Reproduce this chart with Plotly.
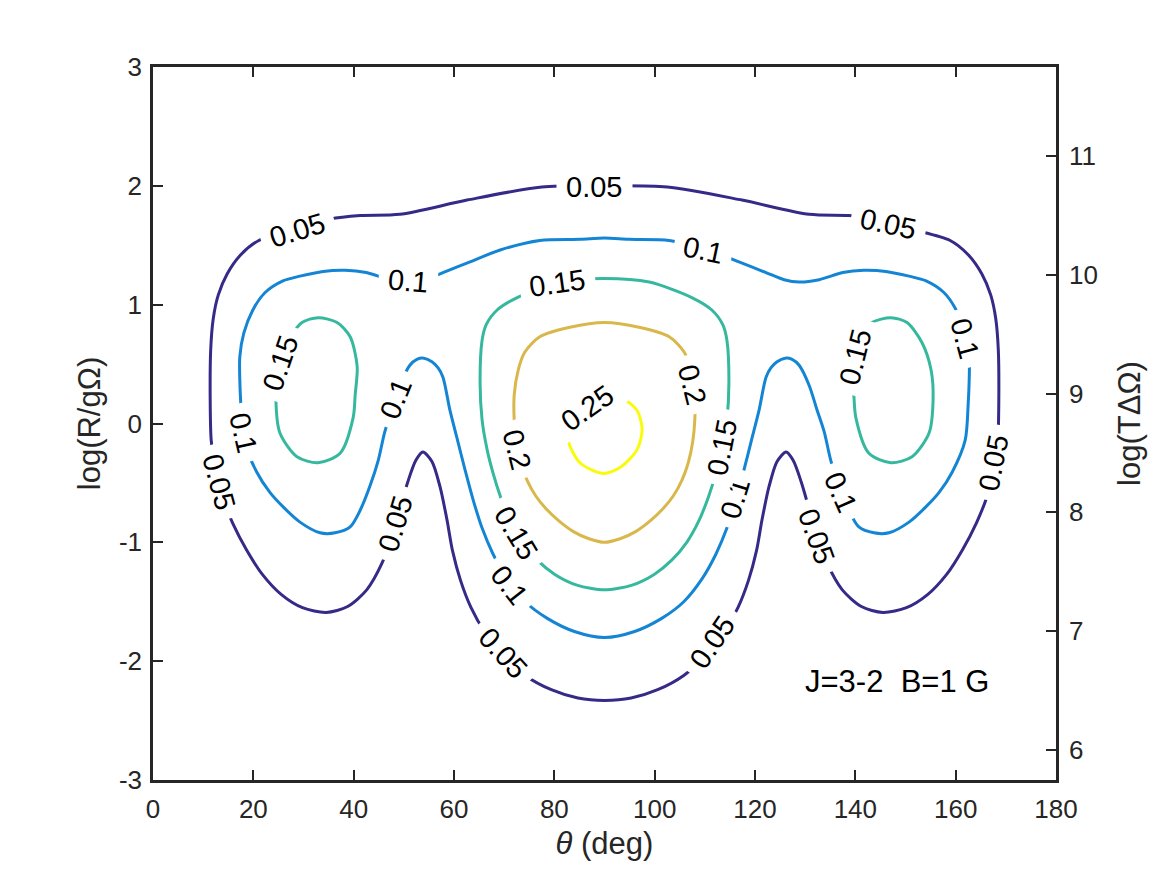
import plotly.graph_objects as go

# contour lines as (theta in deg, log(R/gOmega)) points
pts_005 = [(90, 2.00), (77.5, 1.99), (62.6, 1.88), (49.2, 1.76), (41.3, 1.75), (35.3, 1.72), (29.3, 1.64),
           (21.1, 1.54), (17.5, 1.42), (14.8, 1.26), (13.0, 1.08), (12.0, 0.88), (11.5, 0.62), (11.4, 0.20),
           (11.6, -0.14), (12.4, -0.39), (13.8, -0.62), (15.9, -0.84), (18.6, -1.06), (21.8, -1.27),
           (25.6, -1.44), (29.8, -1.55), (34.5, -1.59), (38.8, -1.54), (42.6, -1.40), (45.6, -1.18),
           (47.6, -0.95), (49.2, -0.72), (50.8, -0.49), (52.4, -0.31), (53.8, -0.24), (55.6, -0.32),
           (57.2, -0.53), (58.6, -0.81), (59.7, -1.07), (61.3, -1.32), (63.4, -1.55), (66.2, -1.76),
           (69.8, -1.95), (74.2, -2.12), (79.4, -2.24), (84.7, -2.31), (90, -2.33),
           (95.3, -2.31), (100.6, -2.24), (105.8, -2.12), (110.2, -1.95), (113.8, -1.76), (116.6, -1.55),
           (118.7, -1.32), (120.3, -1.07), (121.4, -0.81), (122.8, -0.53), (124.4, -0.32), (126.2, -0.24),
           (127.6, -0.31), (129.2, -0.49), (130.8, -0.72), (132.4, -0.95), (134.4, -1.18), (137.4, -1.40),
           (141.2, -1.54), (145.5, -1.59), (150.2, -1.55), (154.4, -1.44), (158.2, -1.27), (161.4, -1.06),
           (164.1, -0.84), (166.2, -0.62), (167.6, -0.39), (168.4, -0.14), (168.6, 0.20), (168.5, 0.62),
           (168.0, 0.88), (167.0, 1.08), (165.2, 1.26), (162.5, 1.42), (158.9, 1.54), (150.7, 1.64),
           (144.7, 1.72), (138.7, 1.75), (130.8, 1.76), (117.4, 1.88), (102.5, 1.99), (90, 2.00)]

pts_010 = [(90, 1.56), (85.2, 1.55), (77.1, 1.54), (69.2, 1.46), (63.2, 1.36), (57.8, 1.27), (54.2, 1.21),
           (51.2, 1.19), (47.2, 1.21), (42.5, 1.27), (38.3, 1.29), (33.9, 1.28), (29.3, 1.24), (25.9, 1.20),
           (22.3, 1.10), (19.9, 0.955), (18.1, 0.76), (17.3, 0.56), (17.3, 0.37), (17.5, 0.17), (18.1, -0.14),
           (20.7, -0.41), (23.3, -0.58), (25.9, -0.70), (29.3, -0.83), (33.3, -0.92), (36.3, -0.92),
           (39.3, -0.87), (41.3, -0.73), (43.3, -0.52), (44.9, -0.31), (46.2, -0.07), (47.6, 0.11),
           (49.2, 0.32), (51.2, 0.49), (52.6, 0.54), (54.0, 0.55), (55.6, 0.52), (56.8, 0.47), (57.8, 0.39),
           (59.2, 0.11), (60.7, -0.14), (62.2, -0.39), (63.8, -0.64), (65.6, -0.88), (67.8, -1.10),
           (70.6, -1.31), (74.2, -1.50), (78.6, -1.64), (84.0, -1.75), (90, -1.80),
           (96.0, -1.75), (101.4, -1.64), (105.8, -1.50), (109.4, -1.31), (112.2, -1.10), (114.4, -0.88),
           (116.2, -0.64), (117.8, -0.39), (119.3, -0.14), (120.8, 0.11), (122.2, 0.39), (123.2, 0.47),
           (124.4, 0.52), (126.0, 0.55), (127.4, 0.54), (128.8, 0.49), (130.8, 0.32), (132.4, 0.11),
           (133.8, -0.07), (135.1, -0.31), (136.7, -0.52), (138.7, -0.73), (140.7, -0.87), (143.7, -0.92),
           (146.7, -0.92), (150.7, -0.83), (154.1, -0.70), (156.7, -0.58), (159.3, -0.41), (161.9, -0.14),
           (162.5, 0.17), (162.7, 0.37), (162.7, 0.56), (161.9, 0.76), (160.1, 0.955), (157.7, 1.10),
           (154.1, 1.20), (150.7, 1.24), (146.1, 1.28), (141.7, 1.29), (137.5, 1.27), (132.8, 1.21),
           (128.8, 1.19), (125.8, 1.21), (122.2, 1.27), (116.8, 1.36), (110.8, 1.46), (102.9, 1.54),
           (94.8, 1.55), (90, 1.56)]

pts_015_left = [(32.9, 0.89), (36.7, 0.85), (39.3, 0.73), (40.7, 0.48), (40.3, 0.24), (39.9, 0.05),
                (37.3, -0.25), (32.9, -0.33), (28.7, -0.28), (25.3, -0.08), (24.5, 0.20), (24.9, 0.45),
                (26.7, 0.68), (29.7, 0.85), (32.9, 0.89)]

pts_015_right = [(147.1, 0.89), (150.3, 0.85), (153.3, 0.68), (155.1, 0.45), (155.5, 0.20), (154.7, -0.08),
                 (151.3, -0.28), (147.1, -0.33), (142.7, -0.25), (140.1, 0.05), (139.7, 0.24), (139.3, 0.48),
                 (140.7, 0.73), (143.3, 0.85), (147.1, 0.89)]

pts_015_mid = [(90, 1.22), (81.1, 1.19), (72.6, 1.06), (68.6, 0.955), (66.4, 0.83), (65.6, 0.70), (65.2, 0.34),
               (65.6, 0.03), (66.6, -0.22), (67.8, -0.42), (69.3, -0.62), (71.2, -0.82), (73.6, -1.00),
               (76.6, -1.15), (80.1, -1.27), (84.5, -1.36), (90, -1.40),
               (95.5, -1.36), (99.9, -1.27), (103.4, -1.15), (106.4, -1.00), (108.8, -0.82), (110.7, -0.62),
               (112.2, -0.42), (113.4, -0.22), (114.4, 0.03), (114.8, 0.34), (114.4, 0.70), (113.6, 0.83),
               (111.4, 0.955), (107.4, 1.06), (98.9, 1.19), (90, 1.22)]

pts_020 = [(90, 0.85), (83.1, 0.81), (77.1, 0.73), (74.1, 0.60), (72.8, 0.45), (72.0, 0.24), (72.0, 0.03),
           (72.4, -0.15), (73.3, -0.33), (74.6, -0.48), (76.3, -0.61), (78.4, -0.72), (80.9, -0.82),
           (83.8, -0.91), (86.9, -0.97), (90, -1.00),
           (93.1, -0.97), (96.2, -0.91), (99.1, -0.82), (101.6, -0.72), (103.7, -0.61), (105.4, -0.48),
           (106.7, -0.33), (107.6, -0.15), (108.0, 0.03), (108.0, 0.24), (107.2, 0.45), (105.9, 0.60),
           (102.9, 0.73), (96.9, 0.81), (90, 0.85)]

pts_025 = [(90.1, 0.25), (93.7, 0.21), (96.5, 0.11), (97.5, -0.05), (96.5, -0.22), (93.1, -0.37),
           (89.7, -0.42), (85.1, -0.33), (82.7, -0.14), (82.7, 0.03), (85.1, 0.18), (90.1, 0.25)]

# inline contour labels: text, theta, log(R/gOmega), rotation
labels = [
    ("0.05", 28.9, 1.63, -17), ("0.05", 88.1, 1.99, 0), ("0.05", 146.7, 1.68, 12),
    ("0.05", 13.2, -0.49, 75), ("0.05", 48.4, -0.84, -73), ("0.05", 69.8, -1.93, 48),
    ("0.05", 111.5, -1.84, -56), ("0.05", 132.2, -0.95, 70), ("0.05", 167.5, -0.33, -79),
    ("0.1", 50.8, 1.20, 5), ("0.1", 109.6, 1.46, 12), ("0.1", 18.0, -0.08, 77),
    ("0.1", 48.3, 0.21, -68), ("0.1", 71.0, -1.36, 52), ("0.1", 116.1, -0.63, -73),
    ("0.1", 137.0, -0.58, 66), ("0.1", 161.8, 0.72, 75),
    ("0.15", 25.4, 0.51, -71), ("0.15", 80.7, 1.18, -8), ("0.15", 113.5, -0.20, -79),
    ("0.15", 72.4, -0.92, 59), ("0.15", 140.0, 0.56, -76),
    ("0.2", 72.6, -0.22, 76), ("0.2", 107.4, 0.33, 76),
    ("0.25", 86.6, 0.13, -35),
]

right_offset = 8.748  # log(T dOmega) = log(R/gOmega) + offset

curves = [
    (pts_005, "#352a87"),
    (pts_010, "#1485d4"),
    (pts_015_left, "#36b89e"),
    (pts_015_mid, "#36b89e"),
    (pts_015_right, "#36b89e"),
    (pts_020, "#d9b84b"),
    (pts_025, "#f9fb0e"),
]

font = "Liberation Sans, Arial, Helvetica, sans-serif"
axcol = "#262626"
gap = "\u00a0"  # widens the white box along the line, like the clabel gap

fig = go.Figure()
for pts, col in curves:
    th, lr = zip(*pts)
    fig.add_trace(go.Scatter(x=list(th), y=list(lr), mode="lines",
                             line=dict(color=col, width=3, shape="spline", smoothing=0.8),
                             hoverinfo="skip", showlegend=False))

# dummy trace so the right axis gets drawn
fig.add_trace(go.Scatter(x=[None], y=[None], yaxis="y2", showlegend=False, hoverinfo="skip"))

for txt, th, lr, ang in labels:
    fig.add_annotation(x=th, y=lr, text=gap + txt + gap, showarrow=False, textangle=ang,
                       font=dict(family=font, size=29, color="black"),
                       bgcolor="white", borderpad=1, xanchor="center", yanchor="middle")

fig.add_annotation(x=129.6, y=-2.175, text="J=3-2\u00a0\u00a0B=1 G", showarrow=False,
                   xanchor="left", yanchor="middle", font=dict(family=font, size=31, color="black"))

yt = [-3, -2, -1, 0, 1, 2, 3]
# the page body adds an 8px margin, so the figure is drawn 8px smaller and shifted
fig.update_layout(
    width=1159, height=867,
    margin=dict(l=145, r=111, t=59, b=95),
    plot_bgcolor="white", paper_bgcolor="white",
    font=dict(family=font, size=26, color=axcol),
    xaxis=dict(range=[0, 180], tickvals=list(range(0, 181, 20)), ticks="inside", ticklen=10,
               tickwidth=2, tickcolor=axcol, showline=True, linewidth=2.5, linecolor=axcol,
               mirror="ticks", showgrid=False, zeroline=False, ticklabelstandoff=4,
               title=dict(text="<i>θ</i> (deg)", font=dict(size=31), standoff=10)),
    yaxis=dict(range=[-3, 3], tickvals=yt, ticktext=[str(v) for v in yt], ticks="inside",
               ticklen=10, tickwidth=2, tickcolor=axcol, showline=True, linewidth=2.5,
               linecolor=axcol, mirror=True, showgrid=False, zeroline=False, ticklabelstandoff=3,
               title=dict(text="log(R/gΩ)", font=dict(size=31), standoff=10)),
    yaxis2=dict(range=[-3 + right_offset, 3 + right_offset], overlaying="y", side="right",
                tickvals=[6, 7, 8, 9, 10, 11], ticks="inside", ticklen=10, tickwidth=2,
                tickcolor=axcol, showline=True, linewidth=2.5, linecolor=axcol,
                showgrid=False, zeroline=False, ticklabelstandoff=5,
                title=dict(text="log(TΔΩ)", font=dict(size=31), standoff=22)),
)

fig.write_html("out.html")
